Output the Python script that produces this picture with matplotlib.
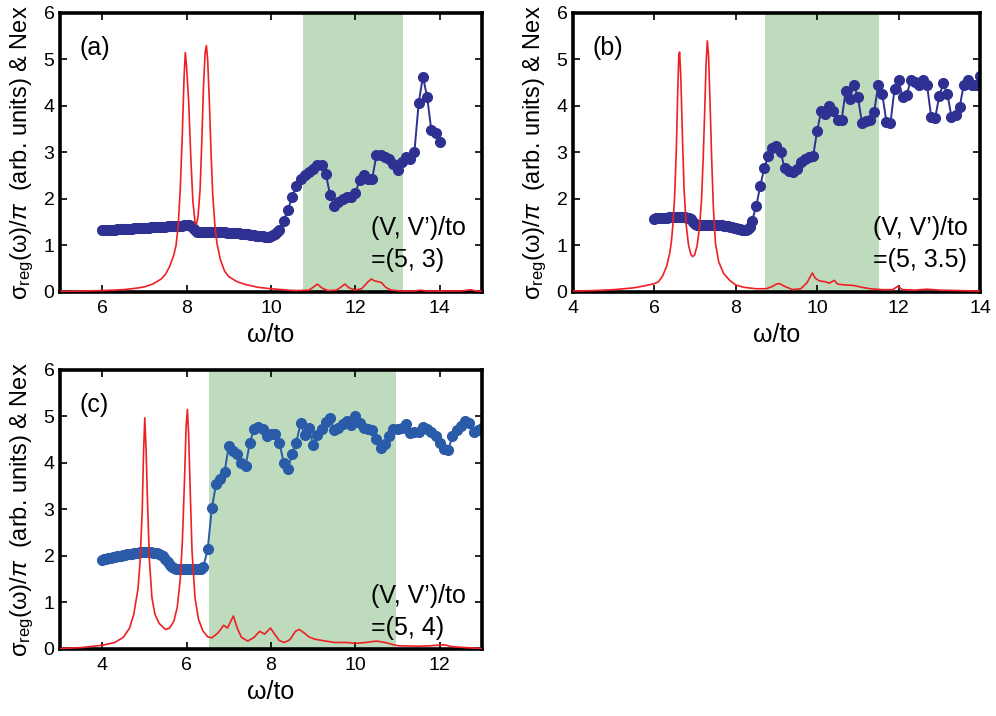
import matplotlib
matplotlib.use("Agg")
import matplotlib.pyplot as plt

plt.rcParams['font.family'] = ['Liberation Sans', 'DejaVu Sans']
plt.rcParams['mathtext.fontset'] = 'custom'
plt.rcParams['mathtext.rm'] = 'Liberation Sans'
plt.rcParams['mathtext.it'] = 'Liberation Sans:italic'

# ---------------- panel (a): (V, V')/to = (5, 3) ----------------
red_x_a = [5.0, 5.5, 6.0, 6.5, 6.8, 7.0, 7.2, 7.4, 7.5, 7.6, 7.7, 7.75, 7.8, 7.85, 7.9,
           7.94, 7.97, 8.0, 8.05, 8.1, 8.15, 8.2, 8.23, 8.27, 8.32, 8.36, 8.4, 8.44, 8.47,
           8.5, 8.54, 8.58, 8.62, 8.67, 8.72, 8.8, 8.9, 9.0, 9.2, 9.4, 9.7, 10.0, 10.4,
           10.6, 10.9, 11.0, 11.1, 11.2, 11.35, 11.55, 11.65, 11.75, 11.85, 12.0, 12.15,
           12.3, 12.38, 12.45, 12.55, 12.62, 12.72, 12.85, 13.1, 13.4, 13.55, 13.7, 14.0,
           14.4, 14.6, 14.73, 14.85, 15.0]
red_y_a = [0.01, 0.02, 0.03, 0.05, 0.08, 0.11, 0.17, 0.28, 0.38, 0.55, 0.8, 1.0, 1.4, 2.2, 3.4,
           4.6, 5.15, 4.85, 4.1, 2.9, 1.95, 1.5, 1.45, 1.6, 2.2, 3.2, 4.4, 5.15, 5.3,
           5.0, 4.1, 3.0, 2.1, 1.45, 1.05, 0.7, 0.45, 0.33, 0.22, 0.16, 0.10, 0.07, 0.04,
           0.03, 0.04, 0.10, 0.17, 0.09, 0.03, 0.04, 0.10, 0.17, 0.09, 0.04, 0.07,
           0.22, 0.28, 0.24, 0.22, 0.20, 0.10, 0.04, 0.02, 0.02, 0.04, 0.02, 0.02,
           0.02, 0.03, 0.05, 0.02, 0.02]

nex_x_a = [6.0, 6.05, 6.1, 6.15, 6.2, 6.25, 6.3, 6.35, 6.4, 6.45,
           6.5, 6.55, 6.6, 6.65, 6.7, 6.75, 6.8, 6.85, 6.9, 6.95,
           7.0, 7.05, 7.1, 7.15, 7.2, 7.25, 7.3, 7.35, 7.4, 7.45,
           7.5, 7.55, 7.6, 7.65, 7.7, 7.75, 7.8, 7.85, 7.9, 7.95,
           8.0, 8.05, 8.1, 8.15, 8.2, 8.25, 8.3, 8.35, 8.4, 8.45,
           8.5, 8.55, 8.6, 8.65, 8.7, 8.75, 8.8, 8.85, 8.9, 8.95,
           9.0, 9.05, 9.1, 9.15, 9.2, 9.25, 9.3, 9.35, 9.4, 9.45,
           9.5, 9.55, 9.6, 9.65, 9.7, 9.75, 9.8, 9.85, 9.9, 9.95,
           10.0, 10.05, 10.1, 10.15,
           10.2, 10.3, 10.4, 10.5, 10.6, 10.7, 10.8, 10.9, 11.0, 11.1,
           11.2, 11.3, 11.4, 11.5, 11.6, 11.7, 11.8, 11.9, 12.0, 12.1,
           12.2, 12.3, 12.4, 12.5, 12.6, 12.7, 12.8, 12.9, 13.0, 13.1,
           13.2, 13.3, 13.4, 13.5, 13.6, 13.7, 13.8, 13.9, 14.0]
nex_y_a = [1.33, 1.33, 1.33, 1.34, 1.34, 1.34, 1.34, 1.35, 1.35, 1.35,
           1.35, 1.36, 1.36, 1.36, 1.36, 1.37, 1.37, 1.37, 1.37, 1.38,
           1.38, 1.38, 1.38, 1.39, 1.39, 1.39, 1.39, 1.40, 1.40, 1.40,
           1.40, 1.41, 1.41, 1.41, 1.41, 1.42, 1.42, 1.42, 1.42, 1.43,
           1.43, 1.43, 1.42, 1.38, 1.33, 1.30, 1.29, 1.29, 1.29, 1.29,
           1.29, 1.29, 1.29, 1.28, 1.28, 1.28, 1.28, 1.28, 1.28, 1.27,
           1.27, 1.27, 1.27, 1.26, 1.26, 1.26, 1.25, 1.25, 1.24, 1.24,
           1.23, 1.23, 1.22, 1.21, 1.21, 1.20, 1.20, 1.19, 1.19, 1.19,
           1.20, 1.22, 1.25, 1.28,
           1.33, 1.53, 1.76, 2.04, 2.27, 2.43, 2.52, 2.59, 2.64, 2.73,
           2.73, 2.54, 2.09, 1.85, 1.94, 2.01, 2.05, 2.05, 2.12, 2.41,
           2.52, 2.44, 2.44, 2.95, 2.95, 2.91, 2.87, 2.75, 2.62, 2.80,
           2.90, 2.85, 3.02, 4.06, 4.63, 4.20, 3.48, 3.41, 3.23]

# ---------------- panel (b): (V, V')/to = (5, 3.5) ----------------
red_x_b = [4.0, 4.5, 5.0, 5.5, 5.8, 6.0, 6.1, 6.2, 6.3, 6.38, 6.42, 6.46, 6.5, 6.54, 6.57,
           6.6, 6.62, 6.65, 6.69, 6.73, 6.78, 6.84, 6.9, 6.94, 6.99, 7.05, 7.11, 7.16,
           7.2, 7.24, 7.27, 7.3, 7.33, 7.37, 7.41, 7.45, 7.5, 7.58, 7.7, 7.85, 8.0, 8.2,
           8.5, 8.75, 8.9, 9.0, 9.08, 9.2, 9.4, 9.6, 9.75, 9.88, 9.95, 10.05, 10.2, 10.3,
           10.42, 10.5, 10.7, 10.9, 11.1, 11.3, 11.6, 11.85, 11.98, 12.1, 12.4, 12.7,
           13.0, 13.5, 14.0]
red_y_b = [0.02, 0.03, 0.05, 0.09, 0.14, 0.18, 0.22, 0.34, 0.55, 0.85, 1.1, 1.5, 2.1, 3.1, 4.2,
           5.1, 5.16, 4.6, 3.3, 2.2, 1.45, 1.0, 0.8, 0.76, 0.8, 1.0, 1.4, 2.0,
           2.9, 4.0, 4.9, 5.4, 5.1, 4.0, 2.8, 1.8, 1.05, 0.65, 0.4, 0.25, 0.15, 0.10,
           0.07, 0.07, 0.12, 0.17, 0.18, 0.12, 0.05, 0.07, 0.20, 0.41, 0.30, 0.24, 0.22, 0.19,
           0.25, 0.17, 0.15, 0.14, 0.10, 0.07, 0.05, 0.05, 0.12, 0.05, 0.04, 0.06,
           0.04, 0.03, 0.02]

nex_x_b = [6.0, 6.05, 6.1, 6.15, 6.2, 6.25, 6.3, 6.35, 6.4, 6.45,
           6.5, 6.55, 6.6, 6.65, 6.7, 6.75, 6.8, 6.85, 6.9, 6.95,
           7.0, 7.05, 7.1, 7.15, 7.2, 7.25, 7.3, 7.35, 7.4, 7.45,
           7.5, 7.55, 7.6, 7.65, 7.7, 7.75, 7.8, 7.85, 7.9, 7.95,
           8.0, 8.05, 8.1, 8.15, 8.2, 8.25, 8.3, 8.35,
           8.4, 8.5, 8.6, 8.7, 8.8, 8.9, 9.0, 9.1, 9.2, 9.3,
           9.4, 9.5, 9.6, 9.7, 9.8, 9.9, 10.0, 10.1, 10.2, 10.3,
           10.4, 10.5, 10.6, 10.7, 10.8, 10.9, 11.0, 11.1, 11.2, 11.3,
           11.4, 11.5, 11.6, 11.7, 11.8, 11.9, 12.0, 12.1, 12.2, 12.3,
           12.4, 12.5, 12.6, 12.7, 12.8, 12.9, 13.0, 13.1, 13.2, 13.3,
           13.4, 13.5, 13.6, 13.7, 13.8, 13.9, 14.0]
nex_y_b = [1.58, 1.59, 1.59, 1.60, 1.60, 1.60, 1.60, 1.61, 1.61, 1.61,
           1.61, 1.61, 1.61, 1.61, 1.61, 1.61, 1.60, 1.59, 1.56, 1.51,
           1.47, 1.45, 1.44, 1.44, 1.44, 1.44, 1.44, 1.44, 1.44, 1.44,
           1.44, 1.43, 1.43, 1.43, 1.42, 1.42, 1.41, 1.40, 1.39, 1.38,
           1.37, 1.36, 1.35, 1.34, 1.34, 1.34, 1.36, 1.40,
           1.53, 1.84, 2.27, 2.67, 2.93, 3.09, 3.14, 3.02, 2.66, 2.61,
           2.57, 2.64, 2.80, 2.87, 2.91, 2.92, 3.47, 3.90, 3.83, 4.00,
           3.90, 3.70, 3.70, 4.32, 4.14, 4.45, 4.20, 3.64, 3.68, 3.70,
           3.88, 4.45, 4.26, 3.66, 3.63, 4.36, 4.55, 4.19, 4.24, 4.55,
           4.52, 4.45, 4.55, 4.45, 3.77, 3.75, 4.21, 4.49, 4.26, 3.77,
           3.81, 3.97, 4.45, 4.55, 4.45, 4.45, 4.65]

# ---------------- panel (c): (V, V')/to = (5, 4) ----------------
red_x_c = [3.0, 3.5, 4.0, 4.3, 4.5, 4.65, 4.75, 4.85, 4.9, 4.95, 4.98, 5.01, 5.04, 5.08,
           5.12, 5.18, 5.25, 5.35, 5.5, 5.6, 5.7, 5.78, 5.85, 5.9, 5.95, 5.99, 6.02, 6.05,
           6.09, 6.13, 6.2, 6.28, 6.38, 6.5, 6.6, 6.75, 6.88, 6.97, 7.05, 7.11, 7.2, 7.3,
           7.45, 7.6, 7.73, 7.85, 7.99, 8.1, 8.2, 8.32, 8.45, 8.58, 8.67, 8.78, 8.9, 9.04,
           9.3, 9.5, 9.8, 10.0, 10.25, 10.5, 10.7, 11.0, 11.5, 11.8, 12.1, 12.3, 12.6, 13.0]
red_y_c = [0.01, 0.03, 0.08, 0.14, 0.25, 0.45, 0.75, 1.3, 1.9, 3.0, 4.2, 4.97, 4.3, 3.0,
           1.9, 1.1, 0.75, 0.55, 0.42, 0.45, 0.6, 0.9, 1.5, 2.3, 3.6, 4.8, 5.15, 4.6,
           3.3, 2.1, 1.1, 0.65, 0.40, 0.26, 0.24, 0.35, 0.51, 0.45, 0.60, 0.71, 0.45, 0.25,
           0.17, 0.25, 0.38, 0.32, 0.45, 0.30, 0.18, 0.14, 0.20, 0.38, 0.42, 0.35, 0.26, 0.21,
           0.17, 0.14, 0.14, 0.12, 0.14, 0.17, 0.14, 0.07, 0.06, 0.07, 0.09, 0.05, 0.03, 0.01]

nex_x_c = [4.0, 4.05, 4.1, 4.15, 4.2, 4.25, 4.3, 4.35, 4.4, 4.45,
           4.5, 4.55, 4.6, 4.65, 4.7, 4.75, 4.8, 4.85, 4.9, 4.95,
           5.0, 5.05, 5.1, 5.15, 5.2, 5.25, 5.3, 5.35, 5.4, 5.45,
           5.5, 5.55, 5.6, 5.65, 5.7, 5.75, 5.8, 5.85, 5.9, 5.95,
           6.0, 6.05, 6.1, 6.15, 6.2, 6.25, 6.3, 6.35,
           6.4, 6.5, 6.6, 6.7, 6.8, 6.9, 7.0, 7.1, 7.2, 7.3,
           7.4, 7.5, 7.6, 7.7, 7.8, 7.9, 8.0, 8.1, 8.2, 8.3,
           8.4, 8.5, 8.6, 8.7, 8.8, 8.9, 9.0, 9.1, 9.2, 9.3,
           9.4, 9.5, 9.6, 9.7, 9.8, 9.9, 10.0, 10.1, 10.2, 10.3,
           10.4, 10.5, 10.6, 10.7, 10.8, 10.9, 11.0, 11.1, 11.2, 11.3,
           11.4, 11.5, 11.6, 11.7, 11.8, 11.9, 12.0, 12.1, 12.2, 12.3,
           12.4, 12.5, 12.6, 12.7, 12.8, 12.9, 13.0]
nex_y_c = [1.92, 1.93, 1.94, 1.95, 1.96, 1.97, 1.98, 1.99, 2.00, 2.01,
           2.02, 2.03, 2.04, 2.05, 2.05, 2.06, 2.07, 2.07, 2.08, 2.08,
           2.08, 2.08, 2.08, 2.08, 2.07, 2.07, 2.06, 2.05, 2.03, 2.00,
           1.93, 1.86, 1.80, 1.76, 1.74, 1.73, 1.73, 1.73, 1.73, 1.73,
           1.73, 1.73, 1.73, 1.73, 1.72, 1.72, 1.71, 1.72,
           1.77, 2.14, 3.03, 3.55, 3.66, 3.80, 4.37, 4.26, 4.19, 3.99,
           3.94, 4.44, 4.73, 4.77, 4.73, 4.59, 4.62, 4.62, 4.44, 4.01,
           3.86, 4.19, 4.44, 4.85, 4.60, 4.76, 4.39, 4.60, 4.72, 4.89,
           4.96, 4.71, 4.75, 4.84, 4.91, 4.82, 5.00, 4.87, 4.75, 4.72,
           4.71, 4.51, 4.32, 4.41, 4.57, 4.72, 4.72, 4.75, 4.83, 4.64,
           4.67, 4.66, 4.78, 4.72, 4.66, 4.57, 4.42, 4.29, 4.28, 4.57,
           4.70, 4.80, 4.91, 4.87, 4.66, 4.71, 4.76]

panels = [
    # rect, xlim, xticks, shaded window, red, blue, blue colour, tag, params, text y
    ([0.0602, 0.5922, 0.4237, 0.3897], (5, 15), [6, 8, 10, 12, 14], (10.75, 13.13),
     (red_x_a, red_y_a), (nex_x_a, nex_y_a), '#2e3192', '(a)', '=(5, 3)', (0.204, 0.091)),
    ([0.5753, 0.5922, 0.4086, 0.3897], (4, 14), [4, 6, 8, 10, 12, 14], (8.73, 11.52),
     (red_x_b, red_y_b), (nex_x_b, nex_y_b), '#2e3192', '(b)', '=(5, 3.5)', (0.204, 0.091)),
    ([0.0602, 0.0936, 0.4237, 0.3897], (3, 13), [4, 6, 8, 10, 12], (6.53, 10.96),
     (red_x_c, red_y_c), (nex_x_c, nex_y_c), '#2a5ba8', '(c)', '=(5, 4)', (0.164, 0.050)),
]

fig = plt.figure(figsize=(9.96, 7.16), dpi=100)

for rect, xlim, xticks, shade, red, nex, bcol, tag, params, ty in panels:
    ax = fig.add_axes(rect)
    ax.axvspan(shade[0], shade[1], color='#bedcbd', lw=0, zorder=0)
    ax.plot(nex[0], nex[1], '-o', color=bcol, lw=1.4, ms=7, mec=bcol, zorder=2)
    ax.plot(red[0], red[1], '-', color='#ee2024', lw=1.2, zorder=3)
    ax.set_xlim(*xlim)
    ax.set_ylim(0, 6)
    ax.set_xticks(xticks)
    ax.set_yticks(range(7))
    ax.tick_params(direction='in', top=True, right=True, length=5, width=1.2,
                   labelsize=14, pad=6)
    ax.tick_params(axis='y', pad=4)
    for sp in ax.spines.values():
        sp.set_linewidth(2.6)
    ax.set_xlabel('ω/to', fontsize=18, labelpad=4)
    ax.set_ylabel(r'σ$_{\rm reg}$(ω)/$\pi$  (arb. units) & Nex', fontsize=17, labelpad=5)
    ax.text(0.047, 0.85, tag, transform=ax.transAxes, fontsize=18, va='baseline')
    ax.text(0.737, ty[0], '(V, V’)/to', transform=ax.transAxes, fontsize=18, va='baseline')
    ax.text(0.737, ty[1], params, transform=ax.transAxes, fontsize=18, va='baseline')

plt.savefig('out.png', dpi=100)
